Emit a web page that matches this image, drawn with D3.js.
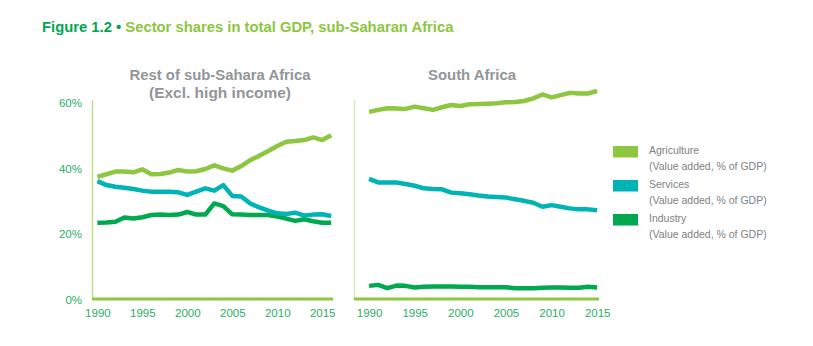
<!DOCTYPE html>
<html>
<head>
<meta charset="utf-8">
<script src="https://cdn.jsdelivr.net/npm/d3@7/dist/d3.min.js"></script>
<style>
  html, body { margin: 0; padding: 0; background: #fff; }
  svg { display: block; font-family: "Liberation Sans", Arial, sans-serif; }
</style>
</head>
<body>
<svg id="chart" width="813" height="346"></svg>
<script>
// Sector shares in GDP (value added, % of GDP)
const yearsRest = d3.range(1990, 2017);   // 1990–2016
const yearsSA = d3.range(1990, 2016);     // 1990–2015

const restAgriculture = [37.2, 38.0, 38.8, 38.8, 38.6, 39.5, 38.0, 38.1, 38.5, 39.3, 38.8, 38.9, 39.6, 40.7, 39.8, 39.1, 40.5, 42.3, 43.6, 45.1, 46.6, 47.9, 48.1, 48.4, 49.2, 48.4, 49.9];
const restServices    = [35.9, 34.7, 34.2, 33.9, 33.5, 33.0, 32.7, 32.7, 32.7, 32.5, 31.7, 32.7, 33.7, 33.0, 34.7, 31.4, 31.2, 29.1, 27.9, 26.9, 26.1, 25.9, 26.3, 25.4, 25.7, 25.8, 25.3];
const restIndustry    = [23.2, 23.3, 23.5, 24.8, 24.5, 24.9, 25.6, 25.7, 25.6, 25.7, 26.5, 25.7, 25.7, 29.1, 28.3, 25.8, 25.7, 25.6, 25.6, 25.6, 25.1, 24.5, 23.8, 24.3, 23.7, 23.2, 23.2];

const saAgriculture = [57.0, 57.6, 58.1, 58.0, 57.9, 58.6, 58.1, 57.6, 58.4, 59.1, 58.8, 59.3, 59.4, 59.5, 59.6, 59.9, 60.0, 60.3, 61.1, 62.3, 61.4, 62.1, 62.8, 62.6, 62.6, 63.4];
const saServices    = [36.6, 35.5, 35.5, 35.5, 35.0, 34.5, 33.7, 33.5, 33.4, 32.4, 32.2, 31.9, 31.5, 31.2, 31.1, 30.9, 30.4, 29.9, 29.3, 28.1, 28.6, 28.1, 27.6, 27.3, 27.3, 27.0];
const saIndustry    = [4.0, 4.3, 3.3, 4.1, 4.0, 3.5, 3.7, 3.8, 3.8, 3.8, 3.7, 3.7, 3.6, 3.6, 3.6, 3.6, 3.3, 3.3, 3.3, 3.4, 3.5, 3.5, 3.4, 3.4, 3.7, 3.5];

const yTicks = [0, 20, 40, 60];
const xTicks = [1990, 1995, 2000, 2005, 2010, 2015];

const seriesNames = ["Agriculture", "Services", "Industry"];
const seriesSub = "(Value added, % of GDP)";
const colors = { Agriculture: "#8dc63f", Services: "#00b3b5", Industry: "#00a94f" };

const svg = d3.select("#chart");

// Figure title
const title = svg.append("text")
  .attr("x", 42).attr("y", 32)
  .attr("font-size", 14.8).attr("font-weight", "bold");
title.append("tspan").attr("fill", "#00a651").text("Figure 1.2 • ");
title.append("tspan").attr("fill", "#8dc63f").text("Sector shares in total GDP, sub-Saharan Africa");

const y = d3.scaleLinear().domain([0, 60]).range([299, 102]);

const panels = [
  {
    titleLines: [["Rest of sub-Sahara Africa", 181], ["(Excl. high income)", 142]],
    titleX: 220,
    x: d3.scaleLinear().domain([1989.4, 2016.2]).range([92, 333]),
    years: yearsRest,
    data: { Agriculture: restAgriculture, Services: restServices, Industry: restIndustry },
    yAxisColor: "#b9df93",
    showY: true
  },
  {
    titleLines: [["South Africa", 88]],
    titleX: 472,
    x: d3.scaleLinear().domain([1988.35, 2015.2]).range([354, 599]),
    years: yearsSA,
    data: { Agriculture: saAgriculture, Services: saServices, Industry: saIndustry },
    yAxisColor: "#d3ecba",
    showY: false
  }
];

panels.forEach(p => {
  const g = svg.append("g");
  const [x0, x1] = p.x.range();

  // panel title
  p.titleLines.forEach(([t, w], i) => {
    g.append("text")
      .attr("x", p.titleX).attr("y", 80 + i * 18)
      .attr("text-anchor", "middle")
      .attr("font-size", 14).attr("font-weight", "bold")
      .attr("fill", "#939598")
      .attr("textLength", w).attr("lengthAdjust", "spacingAndGlyphs")
      .text(t);
  });

  // vertical axis line
  g.append("line")
    .attr("x1", x0 + 0.5).attr("x2", x0 + 0.5)
    .attr("y1", 100).attr("y2", 299)
    .attr("stroke", p.yAxisColor).attr("stroke-width", 1.5);

  // y tick labels
  if (p.showY) {
    const ya = d3.axisLeft(y).tickValues(yTicks).tickSize(0).tickPadding(0)
      .tickFormat(d => d + "%");
    const yg = g.append("g").attr("transform", `translate(82,0)`).call(ya);
    yg.select(".domain").remove();
    yg.selectAll("text")
      .attr("font-size", 11.5).attr("fill", "#2aae63")
      .attr("font-family", "Liberation Sans, Arial, sans-serif")
      .attr("dy", "0.4em");
  }

  // x axis
  const xa = d3.axisBottom(p.x).tickValues(xTicks).tickSize(0).tickPadding(0)
    .tickFormat(d3.format("d"));
  const xg = g.append("g").attr("transform", `translate(0,299)`).call(xa);
  xg.select(".domain").remove();
  xg.selectAll("text")
    .attr("font-size", 11.5).attr("fill", "#2aae63")
    .attr("font-family", "Liberation Sans, Arial, sans-serif")
    .attr("dy", "1.55em");

  g.append("line")
    .attr("x1", x0).attr("x2", x1)
    .attr("y1", 299).attr("y2", 299)
    .attr("stroke", "#8dc63f").attr("stroke-width", 3);

  // series lines
  const line = d3.line().x((d, i) => p.x(p.years[i])).y(d => y(d));
  ["Industry", "Services", "Agriculture"].forEach(name => {
    g.append("path")
      .datum(p.data[name])
      .attr("d", line)
      .attr("fill", "none")
      .attr("stroke", colors[name])
      .attr("stroke-width", 4.5)
      .attr("stroke-linejoin", "round");
  });
});

// legend
const legend = svg.append("g").attr("transform", "translate(613,146)");
seriesNames.forEach((name, i) => {
  const gy = i * 34;
  legend.append("rect")
    .attr("x", 0).attr("y", gy)
    .attr("width", 25).attr("height", 11.5)
    .attr("fill", colors[name]);
  legend.append("text")
    .attr("x", 36).attr("y", gy + 8)
    .attr("font-size", 10.5).attr("fill", "#808285")
    .text(name);
  legend.append("text")
    .attr("x", 36).attr("y", gy + 24)
    .attr("font-size", 10.5).attr("fill", "#808285")
    .text(seriesSub);
});
</script>
</body>
</html>
